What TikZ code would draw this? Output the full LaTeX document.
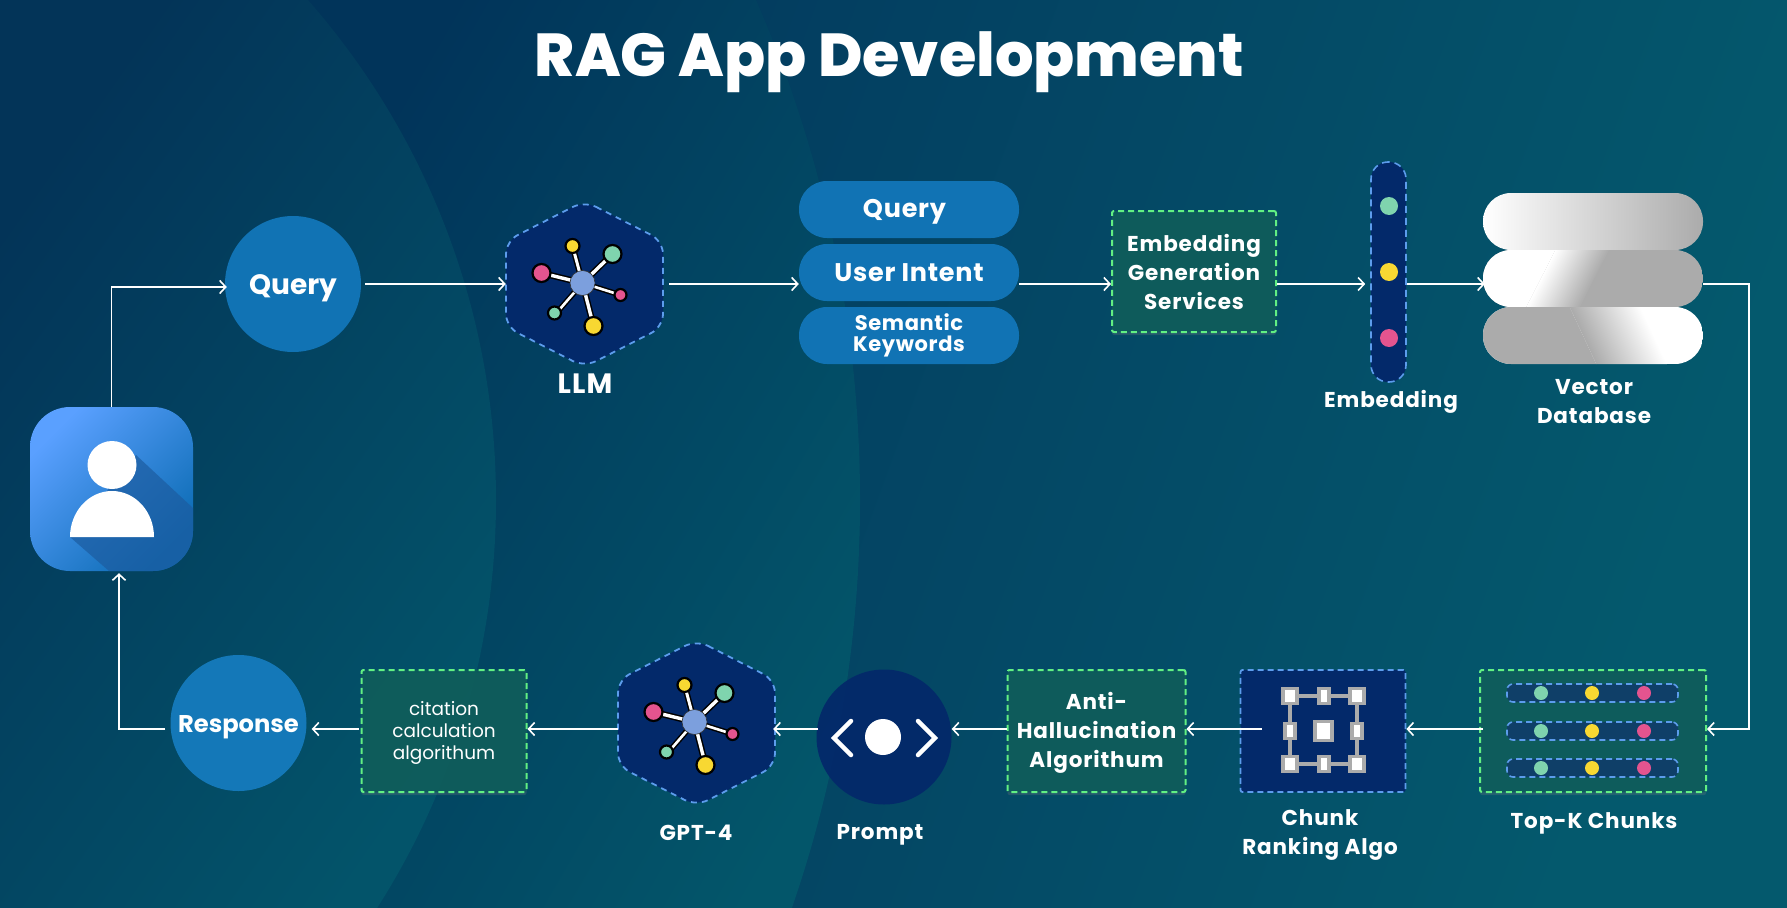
\documentclass[tikz,border=0pt]{standalone}
\usepackage{fontspec}
\setmainfont{Poppins}
\newfontfamily\titlefont{Poppins}[UprightFont=* ExtraBold]
\usetikzlibrary{arrows.meta,shapes.geometric,calc,shadows}
\definecolor{bgA}{HTML}{03305A}
\definecolor{bgM}{HTML}{023F5E}
\definecolor{bgB}{HTML}{04596D}
\definecolor{cOneA}{HTML}{033458}
\definecolor{cOneB}{HTML}{03546A}
\definecolor{cTwoA}{HTML}{01345A}
\definecolor{cTwoB}{HTML}{03566A}
\definecolor{blueA}{HTML}{1173B4}
\definecolor{blueR}{HTML}{1478B8}
\definecolor{userA}{HTML}{5AA0FF}
\definecolor{userB}{HTML}{0C6CB4}
\definecolor{userS}{HTML}{1C5CA0}
\definecolor{navy}{HTML}{03296A}
\definecolor{dashblue}{HTML}{5C9CEC}
\definecolor{dashgreen}{HTML}{62F083}
\definecolor{boxgreen}{HTML}{0C5C5A}
\definecolor{chipfill}{HTML}{0F3F68}
\definecolor{dotg}{HTML}{7FD4AE}
\definecolor{doty}{HTML}{F8D832}
\definecolor{dotp}{HTML}{E4548F}
\definecolor{silver}{HTML}{ABABAB}
\definecolor{hub}{HTML}{7C9FDD}
\newcommand{\dropby}[2]{\raisebox{-#1}[\height][\depth]{#2}}
\tikzset{
  x=1pt,y=-1pt,
  arr/.style={draw=white,line width=1.8pt,-{Straight Barb[length=6pt,width=13pt,line width=1.6pt]}},
  pillnode/.style={rectangle,rounded corners=28pt,fill=blueA,minimum width=220pt,minimum height=57pt,inner sep=0pt,text=white,align=center},
  disc/.style={circle,fill=blueA,minimum size=136pt,inner sep=0pt,text=white},
  boxshadow/.style={drop shadow={opacity=.25,shadow xshift=0pt,shadow yshift=-3pt}},
  greenbox/.style={rectangle,rounded corners=2pt,fill=boxgreen,fill opacity=.9,text opacity=1,draw=dashgreen,line width=2pt,dash pattern=on 6pt off 4pt,inner sep=0pt,text=white,align=center,boxshadow},
  bluebox/.style={rectangle,rounded corners=2pt,fill=navy,draw=dashblue,line width=1.8pt,dash pattern=on 6pt off 4pt,inner sep=0pt},
  lab/.style={text=white,align=center,font=\bfseries\fontsize{21.5}{29}\selectfont\addfontfeature{LetterSpace=4}},
  boxtext/.style={font=\bfseries\fontsize{21.5}{29}\selectfont\addfontfeature{LetterSpace=4}},
  pilltext/.style={font=\bfseries\fontsize{25.5}{29}\selectfont\addfontfeature{LetterSpace=3}},
  ghost/.style={rectangle,inner sep=0pt,minimum width=157pt,minimum height=159pt},
  chip/.style={rectangle,rounded corners=6pt,fill=chipfill,draw=dashblue,line width=1.6pt,dash pattern=on 6pt off 4pt,minimum width=171pt,minimum height=18pt,inner sep=0pt},
  dbpill/.style={rounded corners=28pt},
  hexagonpic/.pic={
    \draw[fill=navy,draw=dashblue,line width=1.8pt,dash pattern=on 6pt off 5pt,rounded corners=13pt]
      (0,-83) -- (78.5,-43) -- (78.5,43) -- (0,83) -- (-78.5,43) -- (-78.5,-43) -- cycle;
    \foreach \a/\b/\wd in {-12/-38/3,28/-30/3.4,-43/-11/3.4,36/11/2.6,-28/29/2.6,9/42/3.4}{
      \draw[black,line width=\wd pt+3pt] (-2,-1) -- (\a,\b);
      \draw[white,line width=\wd pt] (-2,-1) -- (\a,\b);
    }
    \fill[hub,draw=black!80,line width=.6pt] (-2,-1) circle (12.5);
    \foreach \a/\b/\r/\c in {-12/-38/7/doty,28/-30/9/dotg,-43/-11/9/dotp,36/11/6/dotp,-30/29/6.5/dotg,9/42/9/doty}{
      \fill[\c,draw=black,line width=2.2pt] (\a,\b) circle (\r);
    }
  },
}
\newcommand{\sq}[3]{\fill[silver] (#1-#3-1,#2-9) rectangle (#1+#3+1,#2+9);\fill[white] (#1-#3+3,#2-6) rectangle (#1+#3-3,#2+6);}
\begin{document}
\begin{tikzpicture}
\useasboundingbox (0,0) rectangle (1787,907);
% background
\shade[shading=axis,left color=bgA,middle color=bgM,right color=bgB,shading angle=70] (0,0) rectangle (1787,907);
\begin{scope}
  \clip (-390,500) circle (1250);
  \shade[shading=axis,left color=cTwoA,right color=cTwoB,shading angle=60] (300,0) rectangle (900,907);
\end{scope}
\begin{scope}
  \clip (-263,500) circle (759);
  \shade[shading=axis,left color=cOneA,right color=cOneB,shading angle=55] (0,0) rectangle (500,907);
\end{scope}
% title
\node[anchor=base,text=white,font=\titlefont\fontsize{60.6}{62}\selectfont] (title) at (889.5,77) {RAG App Development};
% user
\node[rectangle,minimum width=163pt,minimum height=164pt,inner sep=0pt] (user) at (111.5,489) {};
\begin{scope}
  \clip[rounded corners=40pt] (30,407) rectangle (193,571);
  \shade[shading=axis,left color=userA,right color=userB,shading angle=45] (30,407) rectangle (193,571);
  \fill[userS,opacity=.7] (136,455) -- (193,508) -- (193,571) -- (109,571) -- (70,537) -- cycle;
\end{scope}
\fill[white] (112,465) ellipse (24.5 and 24);
\fill[white] (70,537) arc[start angle=180,end angle=360,x radius=42,y radius=46] -- cycle;
% top row
\node[disc,font=\bfseries\fontsize{28}{30}\selectfont] (q) at (293,284) {\dropby{4.5pt}{Query}};
\node[ghost] (llm) at (584.5,284) {};
\pic at (584.5,284) {hexagonpic};
\node[text=white,font=\bfseries\fontsize{28}{30}\selectfont\addfontfeature{LetterSpace=4}] (llmlab) at (585,384) {LLM};
\node[pillnode,pilltext] (p1) at (909,209.5) {\hspace*{-9pt}\dropby{2pt}{Query}};
\node[pillnode,pilltext] (p2) at (909,272.5) {User Intent};
\node[pillnode,font=\bfseries\fontsize{21}{20.5}\selectfont\addfontfeature{LetterSpace=3}] (p3) at (909,335.5) {Semantic\\Keywords};
\node[greenbox,boxtext,minimum width=164pt,minimum height=121pt] (egs) at (1194,271.5) {Embedding\\Generation\\Services};
\node[rectangle,rounded corners=17pt,fill=navy,draw=dashblue,line width=1.6pt,dash pattern=on 7pt off 5pt,minimum width=35pt,minimum height=220pt,inner sep=0pt] (emb) at (1388.5,272) {};
\foreach \yy/\c in {206/dotg,272/doty,338/dotp}{\fill[\c] (1389,\yy) circle (9);}
\node[lab] (emblab) at (1391,401.5) {Embedding};
% database
\node[rectangle,minimum width=220pt,minimum height=171pt,inner sep=0pt] (db) at (1593,278.5) {};
\shade[dbpill,left color=white,right color=silver] (1483,193) rectangle (1703,250);
\begin{scope}
  \clip[dbpill] (1483,250) rectangle (1703,307);
  \fill[silver] (1483,250) rectangle (1703,307);
  \begin{scope}[transform canvas={rotate around={-27:(1568,278)}}]
    \fill[white] (1400,150) rectangle (1544,400);
    \shade[left color=white,right color=silver] (1544,150) rectangle (1592,400);
  \end{scope}
\end{scope}
\begin{scope}
  \clip[dbpill] (1483,307) rectangle (1703,364);
  \fill[white] (1483,307) rectangle (1703,364);
  \begin{scope}[transform canvas={rotate around={25:(1618,335)}}]
    \fill[silver] (1400,200) rectangle (1586,480);
    \shade[left color=silver,right color=white] (1586,200) rectangle (1650,480);
  \end{scope}
\end{scope}
\node[lab] (dblab) at (1594,402) {Vector\\Database};
% bottom row
\node[greenbox,minimum width=226pt,minimum height=122pt] (topk) at (1593,731) {};
\foreach \yy/\n in {693/a,731/b,768/c}{
  \node[chip] (chip\n) at (1592.5,\yy) {};
  \fill[dotg] (1541,\yy) circle (7);
  \fill[doty] (1592,\yy) circle (7);
  \fill[dotp] (1644,\yy) circle (7);
}
\node[lab] (topklab) at (1594,823.5) {Top-K Chunks};
\node[bluebox,minimum width=165pt,minimum height=122pt] (chunk) at (1323,731) {};
\draw[silver,line width=3.4pt] (1290,696) rectangle (1357,764);
\sq{1290}{696}{8}\sq{1324}{696}{6}\sq{1357}{696}{8}
\sq{1290}{731}{6}\sq{1357}{731}{6}
\sq{1290}{764}{8}\sq{1324}{764}{6}\sq{1357}{764}{8}
\fill[silver] (1313,720) rectangle (1334,742);\fill[white] (1317,723) rectangle (1330,739);
\node[lab] (chunklab) at (1320,835) {Chunk\\Ranking Algo};
\node[greenbox,boxtext,minimum width=178pt,minimum height=122pt] (anti) at (1096.5,731) {\dropby{1.5pt}{Anti-}\\\dropby{1.5pt}{Hallucination}\\\dropby{1.5pt}{Algorithum}};
\node[circle,fill=navy,fill opacity=.95,minimum size=135pt,inner sep=0pt] (prompt) at (884,737) {};
\fill[white] (883,737) circle (18);
\draw[white,line width=4.5pt,line cap=round,line join=miter] (851,721) -- (834,738) -- (851,755);
\draw[white,line width=4.5pt,line cap=round,line join=miter] (918,721) -- (935,738) -- (918,755);
\node[lab] (promptlab) at (880,834.5) {Prompt};
\node[ghost] (gpt) at (696.5,723) {};
\pic at (696.5,723) {hexagonpic};
\node[lab] (gptlab) at (696,833) {GPT-4};
\node[greenbox,minimum width=165pt,minimum height=122pt,font=\fontsize{18.5}{22}\selectfont] (cite) at (444,731) {\dropby{2pt}{citation}\\\dropby{2pt}{calculation}\\\dropby{2pt}{algorithum}};
\node[disc,fill=blueR,font=\bfseries\fontsize{24.2}{30}\selectfont] (resp) at (238.5,723) {\dropby{4pt}{Response}};
% connectors
\draw[arr] (user.north) |- ([yshift=-3pt,xshift=2pt]q.west);
\draw[arr] ([xshift=4pt]q.east) -- (llm.west);
\draw[arr] ([xshift=6pt]llm.east) -- ([yshift=-11.5pt]p2.west);
\draw[arr] ([yshift=-11.5pt]p2.east) -- ([yshift=-12.5pt]egs.west);
\draw[arr] ([yshift=-12.5pt]egs.east) -- ([xshift=-5pt,yshift=-12pt]emb.west);
\draw[arr] ([yshift=-12pt]emb.east) -- ([xshift=2pt,yshift=-5.5pt]db.west);
\draw[arr] ([yshift=-5.5pt]db.east) -| ++(46,0) |- ([yshift=2pt]topk.east);
\draw[arr] ([xshift=4pt,yshift=2pt]topk.west) -- ([yshift=2pt]chunk.east);
\draw[arr] ([xshift=22pt,yshift=2pt]chunk.west) -- ([yshift=2pt]anti.east);
\draw[arr] ([yshift=2pt]anti.west) -- ([yshift=8pt]prompt.east);
\draw[arr] ([yshift=8pt,xshift=2pt]prompt.west) -- ([yshift=-6pt,xshift=-2pt]gpt.east);
\draw[arr] ([yshift=-6pt]gpt.west) -- ([yshift=2pt]cite.east);
\draw[arr] ([yshift=2pt,xshift=-2pt]cite.west) -- ([yshift=-6pt,xshift=5pt]resp.east);
\draw[arr] ([yshift=-6pt,xshift=-5pt]resp.west) -| ([xshift=7.5pt,yshift=-2pt]user.south);
\end{tikzpicture}
\end{document}
